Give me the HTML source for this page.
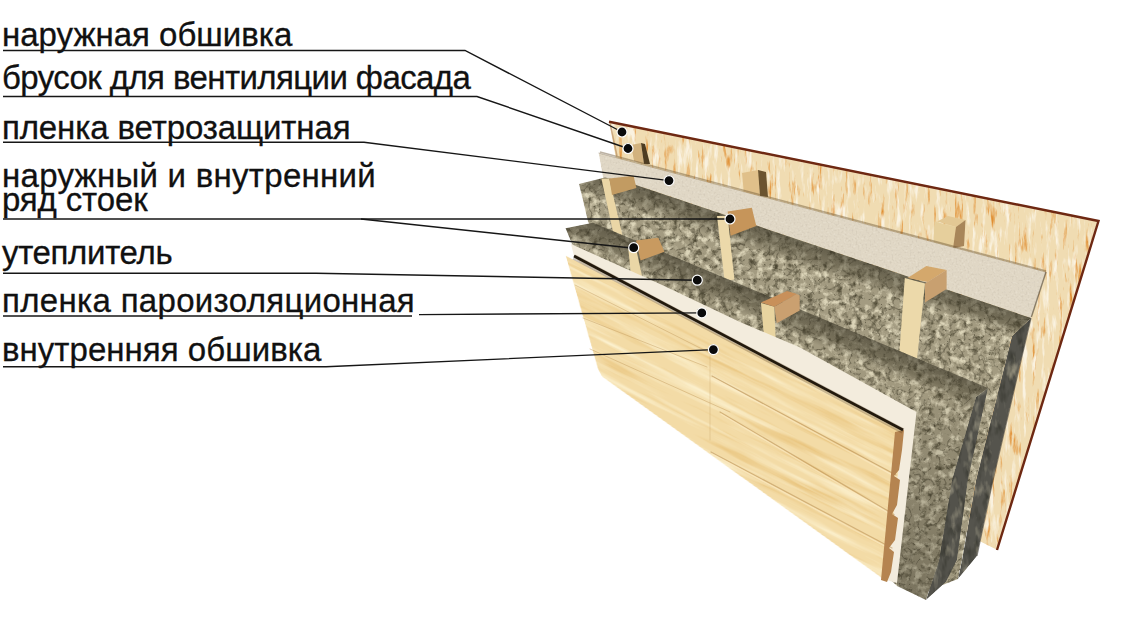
<!DOCTYPE html>
<html><head><meta charset="utf-8">
<style>
html,body{margin:0;padding:0;background:#fff;}
svg{display:block;}
text{font-family:"Liberation Sans",sans-serif;font-size:33px;fill:#111;stroke:#111;stroke-width:0.3px;}
</style></head>
<body>
<svg width="1133" height="630" viewBox="0 0 1133 630">
<defs>
  <filter id="fOSB" x="0" y="0" width="100%" height="100%" color-interpolation-filters="sRGB">
    <feTurbulence type="fractalNoise" baseFrequency="0.22 0.035" numOctaves="4" seed="3" result="n"/>
    <feColorMatrix in="n" type="matrix" values="0 0 0 0 0.88  0 0 0 0 0.56  0 0 0 0 0.2  3.4 0 0 0 -1.98" result="dark"/>
    <feColorMatrix in="n" type="matrix" values="0 0 0 0 0.98  0 0 0 0 0.95  0 0 0 0 0.88  0 -4 0 0 1.9" result="light"/>
    <feMerge result="m"><feMergeNode in="SourceGraphic"/><feMergeNode in="dark"/><feMergeNode in="light"/></feMerge>
    <feComposite in="m" in2="SourceGraphic" operator="in"/>
  </filter>
  <filter id="fIns" x="0" y="0" width="100%" height="100%" color-interpolation-filters="sRGB">
    <feTurbulence type="fractalNoise" baseFrequency="0.14" numOctaves="4" seed="5" result="n"/>
    <feColorMatrix in="n" type="matrix" values="0 0 0 0 0.86  0 0 0 0 0.83  0 0 0 0 0.72  0 3.5 0 0 -1.7" result="light"/>
    <feColorMatrix in="n" type="matrix" values="0 0 0 0 0.3  0 0 0 0 0.28  0 0 0 0 0.2  0 0 3 0 -1.6" result="dark0"/>
    <feTurbulence type="turbulence" baseFrequency="0.1" numOctaves="2" seed="8" result="t"/>
    <feColorMatrix in="t" type="matrix" values="0 0 0 0 0.28  0 0 0 0 0.26  0 0 0 0 0.19  -3.5 0 0 0 0.6" result="dark"/>
    <feGaussianBlur in="dark" stdDeviation="0.5" result="darkb"/>
    <feMerge result="m"><feMergeNode in="SourceGraphic"/><feMergeNode in="dark0"/><feMergeNode in="darkb"/><feMergeNode in="light"/></feMerge>
    <feComposite in="m" in2="SourceGraphic" operator="in"/>
  </filter>
  <filter id="fFilm" x="0" y="0" width="100%" height="100%" color-interpolation-filters="sRGB">
    <feTurbulence type="fractalNoise" baseFrequency="0.5" numOctaves="2" seed="4" result="n"/>
    <feColorMatrix in="n" type="matrix" values="0 0 0 0 0.7  0 0 0 0 0.66  0 0 0 0 0.6  0.8 0 0 0 -0.4" result="dark"/>
    <feColorMatrix in="n" type="matrix" values="0 0 0 0 0.95  0 0 0 0 0.93  0 0 0 0 0.88  0 -1.0 0 0 0.5" result="light"/>
    <feMerge result="m"><feMergeNode in="SourceGraphic"/><feMergeNode in="dark"/><feMergeNode in="light"/></feMerge>
    <feComposite in="m" in2="SourceGraphic" operator="in"/>
  </filter>
  <filter id="fSide" x="0" y="0" width="100%" height="100%" color-interpolation-filters="sRGB">
    <feTurbulence type="fractalNoise" baseFrequency="0.12 0.05" numOctaves="3" seed="21" result="n"/>
    <feColorMatrix in="n" type="matrix" values="0 0 0 0 0.22  0 0 0 0 0.22  0 0 0 0 0.19  2.5 0 0 0 -1.2" result="dark"/>
    <feColorMatrix in="n" type="matrix" values="0 0 0 0 0.62  0 0 0 0 0.6  0 0 0 0 0.52  0 -2.5 0 0 1.15" result="light"/>
    <feMerge result="m"><feMergeNode in="SourceGraphic"/><feMergeNode in="dark"/><feMergeNode in="light"/></feMerge>
    <feComposite in="m" in2="SourceGraphic" operator="in"/>
  </filter>
  <filter id="fWood" x="0" y="0" width="100%" height="100%" color-interpolation-filters="sRGB">
    <feTurbulence type="fractalNoise" baseFrequency="0.008 0.11" numOctaves="4" seed="11" result="n"/>
    <feColorMatrix in="n" type="matrix" values="0 0 0 0 0.9  0 0 0 0 0.74  0 0 0 0 0.44  2.2 0 0 0 -1.12" result="dark"/>
    <feColorMatrix in="n" type="matrix" values="0 0 0 0 0.99  0 0 0 0 0.95  0 0 0 0 0.82  0 -2.6 0 0 1.35" result="light"/>
    <feMerge result="m"><feMergeNode in="SourceGraphic"/><feMergeNode in="dark"/><feMergeNode in="light"/></feMerge>
    <feComposite in="m" in2="SourceGraphic" operator="in"/>
  </filter>
  <linearGradient id="gOutTop" gradientUnits="userSpaceOnUse" x1="850" y1="256.5" x2="842.4" y2="279.3">
    <stop offset="0" stop-color="#3a3628" stop-opacity="0.6"/>
    <stop offset="0.6" stop-color="#46412f" stop-opacity="0.45"/>
    <stop offset="1" stop-color="#4a4535" stop-opacity="0"/>
  </linearGradient>
  <linearGradient id="gInTop" gradientUnits="userSpaceOnUse" x1="790" y1="305.5" x2="780" y2="329.5">
    <stop offset="0" stop-color="#3a3628" stop-opacity="0.6"/>
    <stop offset="0.6" stop-color="#46412f" stop-opacity="0.45"/>
    <stop offset="1" stop-color="#4a4535" stop-opacity="0"/>
  </linearGradient>
  <linearGradient id="gInLow" gradientUnits="userSpaceOnUse" x1="0" y1="390" x2="0" y2="600">
    <stop offset="0" stop-color="#3e3a2c" stop-opacity="0.05"/>
    <stop offset="1" stop-color="#3e3a2c" stop-opacity="0.4"/>
  </linearGradient>
</defs>

<!-- ===== ILLUSTRATION ===== -->
<g id="osb">
  <polygon points="609,121 1098,220 997,550 977,540 800,400 616,160" fill="#f0dcb2" filter="url(#fOSB)"/>
  <polyline points="609,121.8 1098.5,221 997,550" fill="none" stroke="#6e2812" stroke-width="2.4" stroke-linejoin="miter"/>
  <polyline points="610,123 617,156" fill="none" stroke="#b08050" stroke-width="1.5" opacity="0.6"/>
</g>
<g id="ventbars">
  <polygon points="631,145 641,143 644,164 634,161" fill="#d2b27e"/>
  <polygon points="641,143 645,144 650,164 644,164" fill="#4d3c22"/>
  <polygon points="742,173 758,170 760,196 744,194" fill="#e0c08a"/>
  <polygon points="758,170 766,172 768,197 760,196" fill="#6b5430"/>
  <polygon points="937,221.6 948,216 965.5,220 956,227" fill="#e3c894"/>
  <polygon points="934.5,221.6 956,227 953,248.5 933,247" fill="#e6cf9c"/>
  <polygon points="956,227 965.5,220 964,246 953,248.5" fill="#a8865a"/>
</g>
<g id="film">
  <polygon points="598.6,153 1046,272 1031,318 636,185 603,178" fill="#e0d7c5" filter="url(#fFilm)"/>
  <polyline points="600,152 1046,271" fill="none" stroke="#6a5434" stroke-width="1.6" opacity="0.45"/>
  <polyline points="598.6,153 1046,272" fill="none" stroke="#8a7658" stroke-width="0.8" opacity="0.6"/>
  <polyline points="1046,272 1031.4,317" fill="none" stroke="#4a4030" stroke-width="1.4" opacity="0.6"/>
</g>
<g id="outerIns">
  <polygon points="579,184 605,177.5 636,185 1031,318 1012,336 976,480 962,560 958,579 930,590 700,400 588,222" fill="#a39b81" filter="url(#fIns)"/>
  <polyline points="1031,318 993,480 977,556" fill="none" stroke="#3a3630" stroke-width="1.2" opacity="0.6"/>
  <polygon points="579,184 605,177.5 636,185 1031,318 1012,336 976,480 962,560 958,579 930,590 700,400 588,222" fill="url(#gOutTop)"/>
  <polygon points="1012,336 1031,318 993,480 977,556 958,579 962,560 976,480" fill="#55544d" filter="url(#fSide)"/>
</g>
<g id="outerStuds">
  <polygon points="601.4,178.6 609.3,178.6 622.5,236 614,236" fill="#ead6a6"/>
  <polygon points="609.3,178.6 633.6,175.7 636.4,187.9 612,195" fill="#c29b62"/>
  <polygon points="717,216 727.6,216 734.4,279.5 724.6,281" fill="#ecd9aa"/>
  <polygon points="727.6,211.6 751.8,207.8 756.3,226 730.6,235.7" fill="#c6955a"/>
  <polygon points="904.8,278 925,283.6 917,359 899.4,352.3" fill="#ecd9aa"/>
  <polygon points="907.5,278 926.4,266 946.6,270 927.7,282" fill="#d4a86c"/>
  <polygon points="925,283.6 946.6,270 946.6,289 925,302.4" fill="#c8a070"/>
</g>
<g id="innerIns">
  <polygon points="565.6,228.3 593,222.8 988,388 976,397 952,480 939,560 926,600 897,586 700,400 572,244" fill="#a1997f" filter="url(#fIns)"/>
  <polygon points="565.6,228.3 593,222.8 988,388 976,397 952,480 939,560 926,600 897,586 700,400 572,244" fill="url(#gInTop)"/>
  <polygon points="976,397 952,480 939,560 926,600 897,586 890,400" fill="url(#gInLow)"/>
  <polygon points="976,397 988,388 968,480 957,560 946,582 926,600 939,560 952,480" fill="#53524b" filter="url(#fSide)"/>
</g>
<g id="innerStuds">
  <polygon points="628.3,248.3 636,248.3 642,276 631,276" fill="#ead6a6"/>
  <polygon points="636,240.6 658.3,237.8 664.4,251.7 640.6,260.6" fill="#c89a60"/>
  <polygon points="761,303 774.3,306.8 775.6,338.6 764,336" fill="#e8d4a0"/>
  <polygon points="761,302.4 787,291 797,294 774.3,306.8" fill="#c8905a"/>
  <polygon points="774.3,306.8 797,294 799.7,295.4 799.7,310.6 776.8,323.3" fill="#caa070"/>
</g>
<g id="vapor">
  <polygon points="571,244 660,284 740,322 800,347.5 916.5,412 897,583 886,580 700,400 574,256" fill="#f3ecdd"/>
</g>
<g id="boards">
  <polygon transform="matrix(1 0.5 0 1 0 0)" points="565.7,-27.15 903,-21.5 886,138 602,75.5 598,70" fill="#f3dba6" filter="url(#fWood)"/>
  <g fill="none" stroke-linecap="round">
    <polyline points="712,376 896,475" stroke="#b88e52" stroke-width="1.2" opacity="0.6"/>
    <polyline points="713,378 896,477" stroke="#fff0cc" stroke-width="1.2" opacity="0.5"/>
    <polyline points="720,412 894,514.5" stroke="#b88e52" stroke-width="1.2" opacity="0.55"/>
    <polyline points="721,414 894,516.5" stroke="#fff0cc" stroke-width="1.2" opacity="0.5"/>
    <polyline points="711,452 892,548" stroke="#b88e52" stroke-width="1.2" opacity="0.55"/>
    <polyline points="712,454 892,550" stroke="#fff0cc" stroke-width="1.2" opacity="0.5"/>
    <polyline points="710,356 710,440" stroke="#c29a5c" stroke-width="1" opacity="0.3"/>
    <polyline points="575,285 708,352" stroke="#c29a5c" stroke-width="1" opacity="0.45"/>
    <polyline points="583,318 707,367" stroke="#c29a5c" stroke-width="1" opacity="0.45"/>
    <polyline points="590,349 730,412" stroke="#c29a5c" stroke-width="1" opacity="0.45"/>
  </g>
  <polygon points="895,432 904,430 902,450 899,470 894,476 900,480 897,505 892,514 898,518 895,540 889,548 894,552 891,572 887,582 881,580" fill="#b58450"/>
  <line x1="574" y1="257" x2="903" y2="431" stroke="#5a4428" stroke-width="5.5" opacity="0.3"/>
  <line x1="574" y1="256" x2="903" y2="430" stroke="#22190c" stroke-width="2.6"/>
</g>

<!-- ===== LABELS ===== -->
<g id="labels">
  <text textLength="290.3" lengthAdjust="spacing" x="2" y="45.8">наружная обшивка</text>
  <text textLength="468.9" lengthAdjust="spacing" x="2" y="89">брусок для вентиляции фасада</text>
  <text textLength="348.5" lengthAdjust="spacing" x="2" y="138.7">пленка ветрозащитная</text>
  <text textLength="373.7" lengthAdjust="spacing" x="2" y="186.5">наружный и внутренний</text>
  <text textLength="145.6" lengthAdjust="spacing" x="2" y="211.3">ряд стоек</text>
  <text textLength="170.6" lengthAdjust="spacing" x="2" y="263.5">утеплитель</text>
  <text textLength="412.7" lengthAdjust="spacing" x="2" y="312.3">пленка пароизоляционная</text>
  <text textLength="319.3" lengthAdjust="spacing" x="2" y="361.2">внутренняя обшивка</text>
</g>
<g id="leaders" fill="none" stroke="#161616" stroke-width="1.4">
  <polyline points="3,50.5 465,50.5 622,132"/>
  <polyline points="3,96.5 477,96.5 628,148.5"/>
  <polyline points="3,142.3 364,142.3 669,180.6"/>
  <polyline points="3,219 730,219"/>
  <polyline points="361,219 633.7,248.2"/>
  <polyline points="3,273.3 316,273.3 697.3,280.2"/>
  <polyline points="3,316 412,316"/>
  <polyline points="419,314.6 701.8,312.9"/>
  <polyline points="3,366.7 326,366.7 713.4,349.6"/>
</g>
<g id="dots" fill="#0a0a0a" stroke="#fff" stroke-width="1.2">
  <circle cx="622" cy="132" r="5"/>
  <circle cx="628" cy="148.5" r="5"/>
  <circle cx="669" cy="180.6" r="5"/>
  <circle cx="730" cy="219" r="5"/>
  <circle cx="633.7" cy="247.7" r="5"/>
  <circle cx="697.3" cy="280.2" r="5"/>
  <circle cx="701.8" cy="312.9" r="5"/>
  <circle cx="713.4" cy="349.6" r="5"/>
</g>
</svg>
</body></html>
